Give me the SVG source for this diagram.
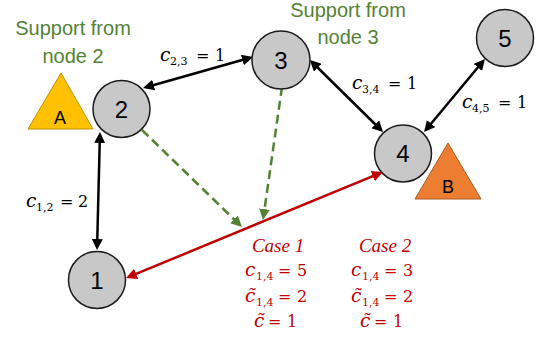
<svg xmlns="http://www.w3.org/2000/svg" width="542" height="337" viewBox="0 0 542 337">
<defs>
<style>
.node circle{fill:#C8C8C8;stroke:#1a1a1a;stroke-width:1.5}
.nl{font-family:"Liberation Sans",Arial,sans-serif;font-size:24px;text-anchor:middle;fill:#000}
.tl{font-family:"Liberation Sans",Arial,sans-serif;font-size:18px;text-anchor:middle;fill:#000}
.sup{font-family:"Liberation Sans",Arial,sans-serif;font-size:20px;text-anchor:middle;fill:#548235}
.m{font-family:"DejaVu Serif","Liberation Serif",serif;font-size:16px;fill:#000}
.cs{font-family:"Liberation Serif","Times New Roman",serif;font-size:19px;font-style:italic;text-anchor:middle}
.r{fill:#C00000}
.i{font-style:italic;font-size:18.5px}
.s{font-size:11px}
.e{fill:none;stroke:#000;stroke-width:2.5}
.red{fill:none;stroke:#C00000;stroke-width:2.5}
.grn{fill:none;stroke:#548235;stroke-width:2.5;stroke-dasharray:9 5}
</style>
<marker id="ab" markerUnits="userSpaceOnUse" markerWidth="12" markerHeight="11" viewBox="0 0 12 11" refX="8" refY="5.5" orient="auto-start-reverse"><path d="M0,0 L11,5.5 L0,11 z" fill="#000"/></marker>
<marker id="ar" markerUnits="userSpaceOnUse" markerWidth="12" markerHeight="11" viewBox="0 0 12 11" refX="8" refY="5.5" orient="auto-start-reverse"><path d="M0,0 L11,5.5 L0,11 z" fill="#C00000"/></marker>
<marker id="ag" markerUnits="userSpaceOnUse" markerWidth="12" markerHeight="11" viewBox="0 0 12 11" refX="8" refY="5.5" orient="auto"><path d="M0,0 L11,5.5 L0,11 z" fill="#548235"/></marker>
</defs>

<g id="connectors">
<line class="e" x1="146" y1="87.2" x2="250.1" y2="57.8" marker-start="url(#ab)" marker-end="url(#ab)"/>
<line class="e" x1="312" y1="62" x2="381" y2="130" marker-start="url(#ab)" marker-end="url(#ab)"/>
<line class="e" x1="483" y1="61.3" x2="426" y2="129.7" marker-start="url(#ab)" marker-end="url(#ab)"/>
<line class="e" x1="99.9" y1="135" x2="97.1" y2="247" marker-start="url(#ab)" marker-end="url(#ab)"/>
<line class="red" x1="380.2" y1="173.1" x2="128.8" y2="276.9" marker-start="url(#ar)" marker-end="url(#ar)"/>
<line class="grn" x1="142" y1="130" x2="239.8" y2="224.9" marker-end="url(#ag)"/>
<line class="grn" x1="282" y1="87" x2="263.4" y2="217" marker-end="url(#ag)"/>
</g>

<g id="edge-labels" class="m">
<text y="61"><tspan x="160" class="i">c</tspan><tspan x="170" y="65" class="s">2,3</tspan><tspan x="196" y="61">=</tspan><tspan x="215">1</tspan></text>
<text y="89"><tspan x="352" class="i">c</tspan><tspan x="362" y="93" class="s">3,4</tspan><tspan x="388" y="89">=</tspan><tspan x="407">1</tspan></text>
<text y="108"><tspan x="462" class="i">c</tspan><tspan x="472" y="112" class="s">4,5</tspan><tspan x="498" y="108">=</tspan><tspan x="517">1</tspan></text>
<text y="207"><tspan x="26" class="i">c</tspan><tspan x="36" y="211" class="s">1,2</tspan><tspan x="60" y="207">=</tspan><tspan x="78">2</tspan></text>
</g>

<g id="support-2"><text class="sup" x="73" y="35">Support from</text><text class="sup" x="73" y="63">node 2</text></g>
<g id="support-3"><text class="sup" x="348" y="17">Support from</text><text class="sup" x="348" y="44">node 3</text></g>

<g id="triangle-A"><polygon points="61,73 28,129 93,129" fill="#FFC000" stroke="#BF9000" stroke-width="1"/><text class="tl" x="60" y="124">A</text></g>
<g id="triangle-B"><polygon points="448,143 415,199 481,199" fill="#ED7D31" stroke="#AE5A21" stroke-width="1"/><text class="tl" x="448" y="193">B</text></g>

<g id="node-1" class="node"><circle cx="97" cy="280" r="28.5"/><text class="nl" x="97" y="288.5">1</text></g>
<g id="node-2" class="node"><circle cx="121.5" cy="109" r="28.5"/><text class="nl" x="121.5" y="117.5">2</text></g>
<g id="node-3" class="node"><circle cx="281" cy="60" r="29"/><text class="nl" x="281" y="68.5">3</text></g>
<g id="node-4" class="node"><circle cx="403" cy="153.5" r="28.5"/><text class="nl" x="403" y="162">4</text></g>
<g id="node-5" class="node"><circle cx="505" cy="38" r="28.5"/><text class="nl" x="505" y="46.5">5</text></g>

<g id="case-1" class="m r">
<text x="278" y="252" class="cs">Case 1</text>
<text y="276"><tspan x="245" class="i">c</tspan><tspan x="256" y="280" class="s">1,4</tspan><tspan x="278" y="276">=</tspan><tspan x="297">5</tspan></text>
<text y="302"><tspan x="245" class="i">c&#x303;</tspan><tspan x="256" y="306" class="s">1,4</tspan><tspan x="278" y="302">=</tspan><tspan x="297">2</tspan></text>
<text y="327"><tspan x="254" class="i">c&#x303;</tspan><tspan x="268">=</tspan><tspan x="287">1</tspan></text>
</g>
<g id="case-2" class="m r">
<text x="385" y="252" class="cs">Case 2</text>
<text y="276"><tspan x="351" class="i">c</tspan><tspan x="362" y="280" class="s">1,4</tspan><tspan x="384" y="276">=</tspan><tspan x="403">3</tspan></text>
<text y="302"><tspan x="351" class="i">c&#x303;</tspan><tspan x="362" y="306" class="s">1,4</tspan><tspan x="384" y="302">=</tspan><tspan x="403">2</tspan></text>
<text y="327"><tspan x="360" class="i">c&#x303;</tspan><tspan x="374">=</tspan><tspan x="393">1</tspan></text>
</g>
</svg>
